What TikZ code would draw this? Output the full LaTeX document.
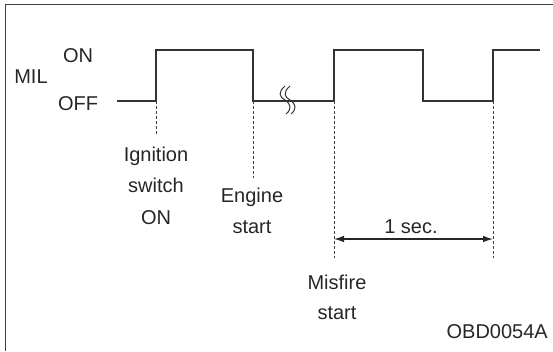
\documentclass[tikz,border=0pt]{standalone}
\usepackage{fontspec}
\setmainfont{Liberation Sans}
\usetikzlibrary{arrows.meta}
\begin{document}
\begin{tikzpicture}[x=1pt,y=-1pt,
  lbl/.style={font=\fontsize{20}{24}\selectfont,inner sep=0pt,anchor=base,text=black!85},
  sig/.style={line width=1.7pt,black!80},
  guide/.style={line width=1pt,black!75,dash pattern=on 3pt off 2pt},
  dim/.style={line width=1.2pt,black!85,{Latex[length=10pt,width=6.5pt]}-{Latex[length=10pt,width=6.5pt]}},
  frm/.style={line width=1.8pt,black!75}]
\useasboundingbox (0,0) rectangle (553,351);
% frame (left and top)
\draw[frm] (5.5,351) -- (5.5,4.5) -- (553,4.5);
% signal coordinates
\coordinate (s0) at (117,101);
\coordinate (r1) at (156,101);
\coordinate (f1) at (253,101);
\coordinate (r2) at (334,101);
\coordinate (f2) at (423,101);
\coordinate (r3) at (493,101);
\coordinate (e3) at (540,50);
\draw[sig] (s0) -- (r1) -- (156,50) -- (253,50) -- (f1) -- (r2) -- (334,50) -- (423,50) -- (f2) -- (r3) -- (493,50) -- (e3);
% break mark
\draw[line width=1pt,black!80] (285,86) .. controls (278,92) and (279,97) .. (285,100) .. controls (291,104) and (292,109) .. (286,114);
\draw[line width=1pt,black!80] (290,86) .. controls (283,92) and (284,97) .. (290,100) .. controls (296,104) and (297,109) .. (291,114);
% guides
\coordinate (g1) at (156,134);
\coordinate (g2) at (253,178);
\coordinate (g3) at (334,258);
\coordinate (g4) at (493,258);
\draw[guide] (r1) -- (g1);
\draw[guide] (f1) -- (g2);
\draw[guide] (r2) -- (g3);
\draw[guide] (r3) -- (g4);
% dimension arrow
\coordinate (a1) at (334,239);
\coordinate (a2) at (493,239);
\draw[dim] (a1) -- (a2);
% labels
\node[lbl] (mil) at (31,83) {MIL};
\node[lbl] (on) at (78,62) {ON};
\node[lbl] (off) at (78,110) {OFF};
\node[lbl] (ign1) at (156,161) {Ignition};
\node[lbl] (ign2) at (156,192) {switch};
\node[lbl] (ign3) at (156,224) {ON};
\node[lbl] (eng1) at (252,202) {Engine};
\node[lbl] (eng2) at (252,233) {start};
\node[lbl] (sec) at (411,233) {1 sec.};
\node[lbl] (mis1) at (337,289) {Misfire};
\node[lbl] (mis2) at (337,319) {start};
\node[lbl,anchor=base east] (code) at (548,338) {OBD0054A};
\end{tikzpicture}
\end{document}
